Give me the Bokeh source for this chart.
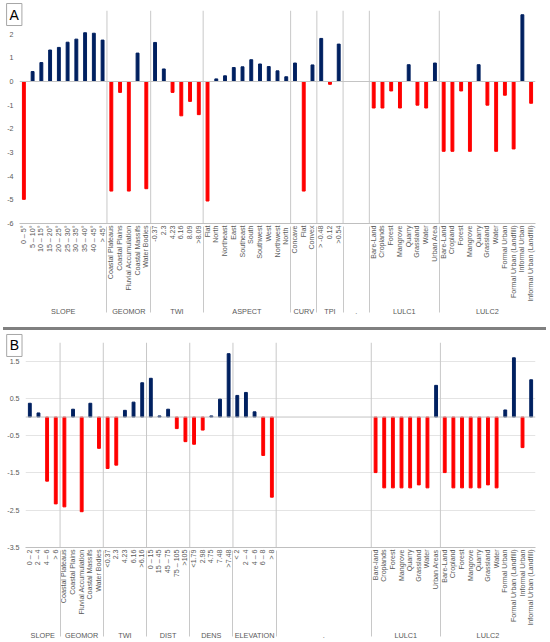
import math
from bokeh.plotting import figure
from bokeh.models import (FactorRange, Range1d, FixedTicker, Span, Label, Div,
                          ColumnDataSource)
from bokeh.layouts import column
from bokeh.embed import file_html
from bokeh.resources import INLINE

# ---------------- Panel A data ----------------
a_groups = ["SLOPE", "GEOMOR", "TWI", "ASPECT", "CURV", "TPI", ".", "LULC1", "LULC2"]
a_slope_labels = ["0 – 5°", "5 – 10°", "10 – 15°", "15 – 20°", "20 – 25°", "25 – 30°",
                  "30 – 35°", "35 – 40°", "40 – 45°", "> 45°"]
a_slope_values = [-4.98, 0.42, 0.80, 1.33, 1.44, 1.66, 1.79, 2.06, 2.04, 1.75]
a_geomor_labels = ["Coastal Plateaus", "Coastal Plains", "Fluvial Accumulation",
                   "Coastal Massifs", "Water Bodies"]
a_geomor_values = [-4.63, -0.46, -4.63, 1.20, -4.53]
a_twi_labels = ["-0.37", "2.3", "4.23", "6.16", "8.09", ">8.09"]
a_twi_values = [1.65, 0.53, -0.46, -1.45, -0.84, -1.40]
a_aspect_labels = ["Flat", "North", "Northeast", "East", "Southeast", "South",
                   "Southwest", "West", "Northwest", "North"]
a_aspect_values = [-5.05, 0.11, 0.24, 0.59, 0.62, 0.92, 0.74, 0.63, 0.45, 0.20]
a_curv_labels = ["Concave", "Flat", "Convex"]
a_curv_values = [0.78, -4.63, 0.70]
a_tpi_labels = ["> -0.48", "0.12", ">0.54"]
a_tpi_values = [1.82, -0.12, 1.58]
a_dot_labels = ["", "", ""]
a_dot_values = [None, None, None]
a_lulc1_labels = ["Bare-Land", "Croplands", "Forest", "Mangrove", "Quarry", "Grassland",
                  "Water", "Urban Area"]
a_lulc1_values = [-1.12, -1.12, -0.40, -1.12, 0.71, -1.00, -1.12, 0.78]
a_lulc2_labels = ["Bare-Land", "Cropland", "Forest", "Mangrove", "Quarry", "Grassland",
                  "Water", "Formal Urban", "Formal Urban (Landfill)", "Informal Urban",
                  "Informal Urban (Landfill)"]
a_lulc2_values = [-2.95, -2.95, -0.40, -2.95, 0.71, -1.00, -2.95, -0.58, -2.85, 2.82, -0.92]
a_ticks = [-6, -5, -4, -3, -2, -1, 0, 1, 2]
a_tick_text = ["-6", "-5", "-4", "-3", "-2", "-1", "0", "1", "2"]

# ---------------- Panel B data ----------------
b_groups = ["SLOPE", "GEOMOR", "TWI", "DIST", "DENS", "ELEVATION", ".", "LULC1", "LULC2"]
b_slope_labels = ["0 – 2", "2 – 4", "4 – 6", "> 6"]
b_slope_values = [0.37, 0.11, -1.72, -2.33]
b_geomor_labels = ["Coastal Plateaus", "Coastal Plains", "Fluvial Accumulation",
                   "Coastal Massifs", "Water Bodies"]
b_geomor_values = [-2.41, 0.21, -2.54, 0.37, -0.84]
b_twi_labels = ["<0.37", "2.3", "4.23", "6.16", ">6.16"]
b_twi_values = [-1.38, -1.29, 0.18, 0.40, 0.92]
b_dist_labels = ["0 – 15", "15 – 45", "45 – 75", "75 – 105", ">105"]
b_dist_values = [1.04, 0.03, 0.21, -0.31, -0.66]
b_dens_labels = ["<1.79", "2.98", "4.75", "7.48", ">7.48"]
b_dens_values = [-0.73, -0.35, 0.03, 0.48, 1.70]
b_elev_labels = ["< 2", "2 – 4", "4 – 6", "6 – 8", "> 8"]
b_elev_values = [0.58, 0.66, 0.14, -1.03, -2.15]
b_dot_labels = [""] * 11
b_dot_values = [None] * 11
b_lulc1_labels = ["Bare-land", "Croplands", "Forest", "Mangrove", "Quarry", "Grassland",
                  "Water", "Urban Areas"]
b_lulc1_values = [-1.49, -1.90, -1.90, -1.90, -1.90, -1.82, -1.90, 0.85]
b_lulc2_labels = ["Bare-Land", "Cropland", "Forest", "Mangrove", "Quarry", "Grassland",
                  "Water", "Formal Urban", "Formal Urban (Landfill)", "Informal Urban",
                  "Informal Urban (Landfill)"]
b_lulc2_values = [-1.49, -1.90, -1.90, -1.90, -1.90, -1.82, -1.90, 0.19, 1.59, -0.82, 1.00]
b_ticks = [-3.5, -2.5, -1.5, -0.5, 0.5, 1.5]
b_tick_text = ["-3.5", "-2.5", "-1.5", "-0.5", "0.5", "1.5"]

POS = "#002060"
NEG = "#ff0000"
FONT = "Liberation Sans"
TXT = "#595959"
SEP = "#c8c8c8"


def make_factors(groups, labels):
    factors = []
    for g, labs in zip(groups, labels):
        seen = set()
        for lab in labs:
            name = lab if lab else " "
            while name in seen:
                name += " "
            seen.add(name)
            factors.append((g, name))
    return factors


def panel(groups, labels, values, y_lo, y_hi, ticks, tick_text, letter, letter_xy,
          height, b_top, b_bottom, b_left, grid):
    factors = make_factors(groups, labels)
    flat_vals = [v for vs in values for v in vs]
    xs, tops, cols = [], [], []
    for f, v in zip(factors, flat_vals):
        if v is None:
            continue
        xs.append(f)
        tops.append(v)
        cols.append(POS if v >= 0 else NEG)
    src = ColumnDataSource(data=dict(x=xs, top=tops, color=cols))

    p = figure(width=550, height=height,
               x_range=FactorRange(factors=factors, group_padding=0, factor_padding=0,
                                   range_padding=0),
               y_range=Range1d(y_lo, y_hi), output_backend="svg", toolbar_location=None,
               min_border_top=b_top, min_border_bottom=b_bottom, min_border_left=b_left,
               min_border_right=10, outline_line_color=None)
    p.frame_align = False

    # group boundaries (synthetic coordinates)
    bounds = [0]
    for labs in labels:
        bounds.append(bounds[-1] + len(labs))
    inner = bounds[1:-1]
    p.segment(x0=inner, y0=[y_lo] * len(inner), x1=inner, y1=[y_hi] * len(inner),
              line_color=SEP, line_width=1)

    p.add_layout(Span(location=0, dimension="width", line_color="#c4c4c4", line_width=1))
    p.vbar(x="x", top="top", bottom=0, width=0.33, color="color", source=src)

    ax = p.xaxis[0]
    ax.major_label_orientation = math.pi / 2
    ax.major_label_text_font = FONT
    ax.major_label_text_font_size = "7.1px"
    ax.major_label_text_color = TXT
    ax.group_text_font = FONT
    ax.group_text_font_size = "7.3px"
    ax.group_text_color = TXT
    ax.group_text_font_style = "normal"
    ax.axis_line_color = "#bfbfbf"
    ax.major_tick_line_color = None
    ax.minor_tick_line_color = None
    ax.major_tick_out = 0
    ax.major_tick_in = 0
    ax.separator_line_color = SEP
    ax.separator_line_width = 1
    ax.major_label_standoff = 2
    ax.axis_label_standoff = 0

    ya = p.yaxis[0]
    ya.ticker = FixedTicker(ticks=ticks)
    ya.major_label_overrides = {t: s for t, s in zip(ticks, tick_text)}
    ya.axis_line_color = None
    ya.major_tick_line_color = None
    ya.minor_tick_line_color = None
    ya.major_tick_out = 0
    ya.major_tick_in = 0
    ya.major_label_standoff = 6
    ya.major_label_text_font = FONT
    ya.major_label_text_font_size = "7.1px"
    ya.major_label_text_color = TXT

    p.xgrid.grid_line_color = None
    if grid:
        p.ygrid.ticker = FixedTicker(ticks=ticks)
        p.ygrid.grid_line_color = "#e4e4e4"
    else:
        p.ygrid.grid_line_color = None

    # panel letter: placed in a side panel so that it is not clipped to the frame
    p.add_layout(Label(x=letter_xy[0], y=letter_xy[1], text=letter, text_align="center",
                       text_baseline="middle", text_font=FONT, text_font_size="14px",
                       text_color="black", border_line_color="#a6a6a6",
                       background_fill_color="white", padding=3), "right")
    return p


pa = panel(a_groups,
           [a_slope_labels, a_geomor_labels, a_twi_labels, a_aspect_labels, a_curv_labels,
            a_tpi_labels, a_dot_labels, a_lulc1_labels, a_lulc2_labels],
           [a_slope_values, a_geomor_values, a_twi_values, a_aspect_values, a_curv_values,
            a_tpi_values, a_dot_values, a_lulc1_values, a_lulc2_values],
           -6, 3, a_ticks, a_tick_text, "A", (-0.6, 2.83),
           height=327, b_top=10, b_bottom=104, b_left=19, grid=False)

pb = panel(b_groups,
           [b_slope_labels, b_geomor_labels, b_twi_labels, b_dist_labels, b_dens_labels,
            b_elev_labels, b_dot_labels, b_lulc1_labels, b_lulc2_labels],
           [b_slope_values, b_geomor_values, b_twi_values, b_dist_values, b_dens_values,
            b_elev_values, b_dot_values, b_lulc1_values, b_lulc2_values],
           -3.5, 2.0, b_ticks, b_tick_text, "B", (-1.29, 1.92),
           height=312, b_top=12, b_bottom=93, b_left=25, grid=True)

divider = Div(width=543, height=3, margin=(0, 0, 0, 3),
              styles={"background-color": "#808080"})

layout = column(pa, divider, pb, spacing=0)
open("out.html", "w").write(file_html(layout, INLINE))
